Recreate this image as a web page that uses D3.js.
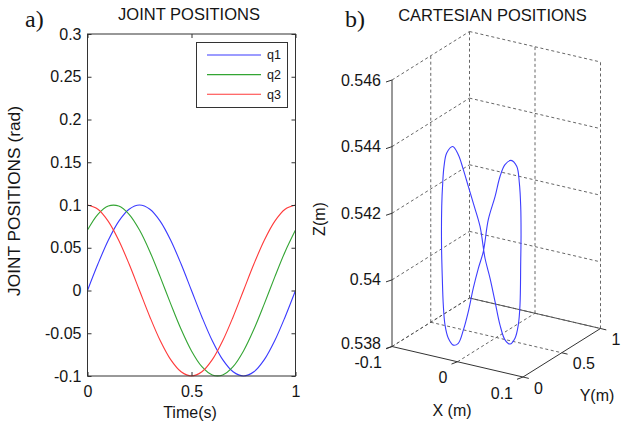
<!DOCTYPE html>
<html><head><meta charset="utf-8">
<script src="https://cdn.jsdelivr.net/npm/d3@7"></script>
<style>
body{margin:0;background:#fff}
svg{display:block}
text{font-family:"Liberation Sans",Arial,Helvetica,sans-serif;fill:#151515}
</style>
</head><body>
<svg id="c" width="636" height="426"></svg>
<script>
// ---------- data: panel a) joint positions ----------
const time = [0,0.05,0.1,0.15,0.2,0.25,0.3,0.35,0.4,0.45,0.5,0.55,0.6,0.65,0.7,0.75,0.8,0.85,0.9,0.95,1];
const q1 = [0,0.0309,0.0588,0.0809,0.0951,0.1,0.0951,0.0809,0.0588,0.0309,0,-0.0309,-0.0588,-0.0809,-0.0951,-0.1,-0.0951,-0.0809,-0.0588,-0.0309,0];
const q2 = [0.0707,0.0891,0.0988,0.0988,0.0891,0.0707,0.0454,0.0156,-0.0156,-0.0454,-0.0707,-0.0891,-0.0988,-0.0988,-0.0891,-0.0707,-0.0454,-0.0156,0.0156,0.0454,0.0707];
const q3 = [0.1,0.0951,0.0809,0.0588,0.0309,0,-0.0309,-0.0588,-0.0809,-0.0951,-0.1,-0.0951,-0.0809,-0.0588,-0.0309,0,0.0309,0.0588,0.0809,0.0951,0.1];
const seriesNames = ["q1","q2","q3"];
const seriesColors = ["#3a3aff","#33a533","#ff3a3a"];
const timeTicks = [0,0.5,1];
const jointTicks = [-0.1,-0.05,0,0.05,0.1,0.15,0.2,0.25,0.3];

// ---------- data: panel b) cartesian positions ----------
const trajX = [-0.0345,-0.0437,-0.0478,-0.0498,-0.0513,-0.0516,-0.0504,-0.0489,-0.0463,-0.0412,-0.0336,-0.0260,-0.0183,-0.0107,-0.0031,0.0046,0.0122,0.0198,0.0301,0.0377,0.0453,0.0545,0.0632,0.0672,0.0693,0.0698,0.0693,0.0682,0.0656,0.0606,0.0530,0.0453,0.0377,0.0301,0.0224,0.0148,0.0072,-0.0031,-0.0107,-0.0183,-0.0260];
const trajY = [0.23,0.23,0.23,0.23,0.23,0.23,0.23,0.23,0.23,0.23,0.23,0.23,0.23,0.23,0.23,0.23,0.23,0.23,0.23,0.23,0.23,0.23,0.23,0.23,0.23,0.23,0.23,0.23,0.23,0.23,0.23,0.23,0.23,0.23,0.23,0.23,0.23,0.23,0.23,0.23,0.23];
const trajZ = [0.54397,0.54373,0.54331,0.54280,0.54209,0.54094,0.53994,0.53915,0.53856,0.53818,0.53801,0.53810,0.53853,0.53912,0.53986,0.54049,0.54103,0.54202,0.54276,0.54340,0.54379,0.54396,0.54382,0.54334,0.54264,0.54180,0.54099,0.53968,0.53907,0.53865,0.53844,0.53853,0.53894,0.53961,0.54028,0.54084,0.54176,0.54241,0.54288,0.54335,0.54376];
const xTicks3 = [-0.1,0,0.1];
const yTicks3 = [0,0.5,1];
const zTicks3 = [0.538,0.54,0.542,0.544,0.546];

const svg = d3.select("#c");
const fmt = v => String(+v.toFixed(4));

// ================= panel a =================
const L = {left:87.5, right:295.5, top:34, bottom:376};
const x = d3.scaleLinear().domain([0,1]).range([L.left,L.right]);
const y = d3.scaleLinear().domain([-0.1,0.3]).range([L.bottom,L.top]);
const ga = svg.append("g");

const series = [q1,q2,q3];
const line = d3.line().x((d,i)=>x(time[i])).y(d=>y(d)).curve(d3.curveCatmullRom);
series.forEach((s,k)=>{
  ga.append("path").attr("d",line(s)).attr("fill","none")
    .attr("stroke",seriesColors[k]).attr("stroke-width",1.1);
});

// box
ga.append("rect").attr("x",L.left).attr("y",L.top).attr("width",L.right-L.left).attr("height",L.bottom-L.top)
  .attr("fill","none").attr("stroke","#333").attr("stroke-width",1);

// axes (ticks inward)
const yAxL = d3.axisLeft(y).tickValues(jointTicks).tickSizeInner(-4).tickSizeOuter(0).tickPadding(6).tickFormat(fmt);
const gyl = ga.append("g").attr("transform",`translate(${L.left},0)`).call(yAxL);
const yAxR = d3.axisRight(y).tickValues(jointTicks).tickSizeInner(-4).tickSizeOuter(0).tickFormat("");
const gyr = ga.append("g").attr("transform",`translate(${L.right},0)`).call(yAxR);
const xAxB = d3.axisBottom(x).tickValues(timeTicks).tickSizeInner(-4).tickSizeOuter(0).tickPadding(10).tickFormat(fmt);
const gxb = ga.append("g").attr("transform",`translate(0,${L.bottom})`).call(xAxB);
const xAxT = d3.axisTop(x).tickValues(timeTicks).tickSizeInner(-4).tickSizeOuter(0).tickFormat("");
const gxt = ga.append("g").attr("transform",`translate(0,${L.top})`).call(xAxT);
[gyl,gyr,gxb,gxt].forEach(g=>{
  g.select(".domain").remove();
  g.selectAll("line").attr("stroke","#333");
  g.selectAll("text").attr("font-size",16).attr("fill","#151515")
   .style("font-family",'"Liberation Sans",Arial,sans-serif');
});

// titles
ga.append("text").attr("x",189).attr("y",20).attr("text-anchor","middle").attr("font-size",16.5).text("JOINT POSITIONS");
ga.append("text").attr("x",190).attr("y",417.5).attr("text-anchor","middle").attr("font-size",16).text("Time(s)");
ga.append("text").attr("transform",`translate(20,${(L.top+L.bottom)/2-4}) rotate(-90)`).attr("text-anchor","middle")
  .attr("font-size",17.3).text("JOINT POSITIONS (rad)");
ga.append("text").attr("x",25).attr("y",27).attr("font-size",24)
  .style("font-family",'"Liberation Serif","Times New Roman",serif').text("a)");

// legend
const lg = ga.append("g");
lg.append("rect").attr("x",196.5).attr("y",42.5).attr("width",91).attr("height",65)
  .attr("fill","#fff").attr("stroke","#333").attr("stroke-width",1);
seriesNames.forEach((n,k)=>{
  const yy = 55 + k*19.6;
  lg.append("line").attr("x1",207).attr("x2",261).attr("y1",yy).attr("y2",yy)
    .attr("stroke",seriesColors[k]).attr("stroke-width",1.1);
  lg.append("text").attr("x",267).attr("y",yy).attr("dy","0.35em").attr("font-size",12.5).text(n);
});

// ================= panel b =================
const O = [392,346.5], ex=[131,30.5], ey=[77.5,-48.5], ez=[0,-266.5];
const ux = d3.scaleLinear().domain([-0.1,0.1]).range([0,1]);
const uy = d3.scaleLinear().domain([0,1]).range([0,1]);
const uz = d3.scaleLinear().domain([0.538,0.546]).range([0,1]);
function P(px,py,pz){
  const a=ux(px), b=uy(py), c=uz(pz);
  return [O[0]+a*ex[0]+b*ey[0]+c*ez[0], O[1]+a*ex[1]+b*ey[1]+c*ez[1]];
}
const gb = svg.append("g");
const X0=-0.1,X1=0.1,Y0=0,Y1=1,Z0=0.538,Z1=0.546;
function seg(p,q,dashed,col){
  gb.append("line").attr("x1",p[0]).attr("y1",p[1]).attr("x2",q[0]).attr("y2",q[1])
    .attr("stroke",col||(dashed?"#555":"#333")).attr("stroke-width",dashed?0.9:1)
    .attr("stroke-dasharray",dashed?"3,2.6":null);
}
// wall x = X0
zTicks3.forEach(z=>seg(P(X0,Y0,z),P(X0,Y1,z),true));
yTicks3.filter(v=>v>Y0).forEach(v=>seg(P(X0,v,Z0),P(X0,v,Z1),true));
// wall y = Y1
zTicks3.forEach(z=>seg(P(X0,Y1,z),P(X1,Y1,z),true));
xTicks3.filter(v=>v>X0).forEach(v=>seg(P(v,Y1,Z0),P(v,Y1,Z1),true));
// floor
xTicks3.filter(v=>v<X1).forEach(v=>seg(P(v,Y0,Z0),P(v,Y1,Z0),true));
yTicks3.filter(v=>v>Y0&&v<Y1).forEach(v=>seg(P(X0,v,Z0),P(X1,v,Z0),true));
// solid edges / axes
seg(P(X0,Y1,Z0),P(X1,Y1,Z0),false,"#555");
seg(P(X0,Y0,Z0),P(X0,Y0,Z1),false);
seg(P(X0,Y0,Z0),P(X1,Y0,Z0),false);
seg(P(X1,Y0,Z0),P(X1,Y1,Z0),false);

// trajectory
const traj = trajX.map((v,i)=>P(v,trajY[i],trajZ[i]));
gb.append("path").attr("d",d3.line().curve(d3.curveCatmullRomClosed)(traj))
  .attr("fill","none").attr("stroke","#3d3dff").attr("stroke-width",1.1);

// ticks and labels
zTicks3.forEach(z=>{
  const p=P(X0,Y0,z);
  seg(p,[p[0]-6,p[1]+2],false);
  gb.append("text").attr("x",p[0]-11).attr("y",p[1]-(z===Z0?3:0)).attr("dy","0.35em")
    .attr("text-anchor","end").attr("font-size",16).text(fmt(z));
});
xTicks3.forEach(v=>{
  const p=P(v,Y0,Z0);
  seg(p,[p[0]-6,p[1]+2.3],false);
  gb.append("text").attr("x",p[0]-10).attr("y",p[1]+16).attr("dy","0.35em")
    .attr("text-anchor","end").attr("font-size",16).text(fmt(v));
});
yTicks3.forEach(v=>{
  const p=P(X1,v,Z0);
  seg(p,[p[0]+5.8,p[1]+1.4],false);
  gb.append("text").attr("x",p[0]+11).attr("y",p[1]+11).attr("dy","0.35em")
    .attr("text-anchor","start").attr("font-size",16).text(fmt(v));
});
gb.append("text").attr("x",452).attr("y",410).attr("dy","0.35em").attr("text-anchor","middle").attr("font-size",16).text("X (m)");
gb.append("text").attr("x",597).attr("y",395).attr("dy","0.35em").attr("text-anchor","middle").attr("font-size",16).text("Y(m)");
gb.append("text").attr("transform","translate(325,219) rotate(-90)").attr("text-anchor","middle").attr("font-size",16).text("Z(m)");
gb.append("text").attr("x",492.5).attr("y",20.5).attr("text-anchor","middle").attr("font-size",16.5).text("CARTESIAN POSITIONS");
gb.append("text").attr("x",345).attr("y",27).attr("font-size",24)
  .style("font-family",'"Liberation Serif","Times New Roman",serif').text("b)");
</script>
</body></html>
